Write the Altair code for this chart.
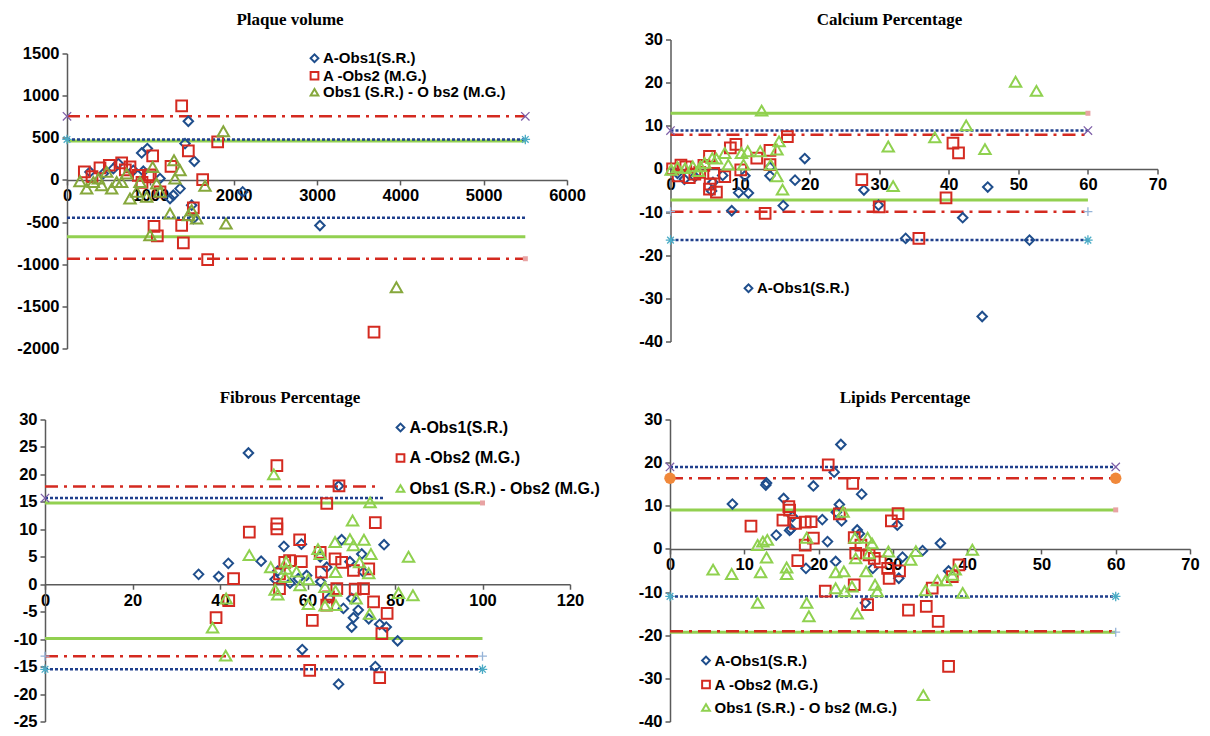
import altair as alt
import pandas as pd

SERIES = ["A-Obs1(S.R.)", "A -Obs2 (M.G.)", "Obs1 (S.R.) - O bs2 (M.G.)"]
SERIES_FIB = ["A-Obs1(S.R.)", "A -Obs2 (M.G.)", "Obs1 (S.R.) - Obs2 (M.G.)"]

# ---------------- Plaque volume ----------------
pv_a1_x = [1456, 964, 896, 1528, 1416, 2108, 1276, 1356, 916, 616, 436, 276, 1236, 1516, 3035, 556, 796, 1116, 1496]
pv_a1_y = [696, 372, 320, 221, 431, -142, -182, -103, 103, 194, 75, 95, -221, -458, -541, 134, 114, 16, -300]
pv_a2_x = [1376, 1456, 1028, 1248, 1808, 1628, 208, 396, 508, 656, 756, 856, 976, 1044, 1084, 1376, 1396, 1688, 1116, 1516, 3684, 700, 900, 1000, 300]
pv_a2_y = [878, 344, 285, 162, 451, 4, 95, 142, 174, 202, 154, 55, 36, -550, -664, -538, -747, -945, -142, -332, -1806, 120, -30, 60, 40]
pv_o_x = [1876, 1284, 1356, 1296, 1656, 1908, 996, 1028, 156, 236, 376, 476, 416, 536, 596, 716, 656, 756, 836, 956, 1076, 1116, 1236, 1496, 1456, 1556, 3953, 876, 316]
pv_o_y = [577, 233, 115, 16, -71, -518, -656, 154, -16, -103, 16, 95, -63, -103, -24, 75, -24, -221, -142, -201, -44, -142, -399, -360, -419, -458, -1273, -24, -24]
pv_red = [755, -935]
pv_red_end = [5500, 5500]
pv_blue = [480, -450]
pv_blue_end = [5500, 5500]
pv_green = [462, -675]
pv_green_end = [5500, 5500]
pv_mark_x = [0, 5500, 0, 5500, 5500]
pv_mark_y = [755, 755, 480, 480, -935]
pv_mark_k = ["x", "x", "ast", "ast", "pink"]

# ---------------- Calcium percentage ----------------
ca_a1_x = [19.3, 17.9, 16.2, 11.2, 8.8, 10.7, 14.3, 14.3, 5.9, 6.1, 2.0, 9.8, 27.8, 29.9, 33.8, 42.0, 45.6, 44.8, 51.6, 3.5, 1.0, 7.5]
ca_a1_y = [2.4, -2.6, -8.5, -5.6, -9.7, -1.6, 0.4, -1.6, -5.1, -3.1, -2.4, -5.5, -4.9, -8.4, -16.1, -11.3, -4.2, -34.2, -16.5, -1.8, -1.0, -1.5]
ca_a2_x = [16.8, 9.4, 8.6, 5.6, 12.4, 14.3, 14.3, 10.1, 7.8, 5.7, 6.6, 5.6, 1.5, 0.3, 4.2, 2.7, 13.6, 1.1, 27.5, 30.0, 39.6, 40.6, 41.4, 35.7, 3.5, 2.2, 4.8, 6.2]
ca_a2_y = [7.5, 5.7, 4.9, 2.9, 2.5, 4.3, 1.0, -0.2, -1.8, -3.5, -5.4, -4.7, 0.9, 0.0, -0.8, -2.0, -10.3, -1.6, -2.5, -8.8, -6.7, 6.0, 3.7, -16.1, -1.2, 0.5, 0.8, -1.0]
ca_o_x = [49.6, 52.6, 13.1, 42.5, 38.0, 31.3, 45.2, 32.0, 16.1, 15.6, 15.3, 14.4, 15.3, 12.9, 11.1, 10.2, 10.5, 7.8, 8.3, 6.0, 4.9, 4.3, 3.2, 2.1, 1.0, 0.1, 4.0, 6.6]
ca_o_y = [20.2, 18.1, 13.5, 10.1, 7.3, 5.2, 4.6, -4.0, -4.8, 6.4, 4.5, 1.0, -1.7, 4.1, 4.1, 3.7, 1.0, 3.7, 1.0, 2.5, 1.4, 0.6, 0.6, 0.2, 0.4, -0.2, -0.5, 2.4]
ca_red = [7.9, -9.9]
ca_red_end = [60, 60]
ca_blue = [8.9, -16.5]
ca_blue_end = [60, 60]
ca_green = [12.9, -7.2]
ca_green_end = [60, 60]
ca_mark_x = [0, 60, 0, 60, 0, 60, 60]
ca_mark_y = [8.9, 8.9, -16.5, -16.5, -9.9, -9.9, 12.9]
ca_mark_k = ["x", "x", "ast", "ast", "plus", "plus", "pink"]

# ---------------- Fibrous percentage ----------------
fi_a1_x = [46.5, 35.1, 39.7, 41.9, 49.4, 54.6, 52.6, 58.8, 67.1, 67.1, 77.5, 72.4, 67.8, 69.7, 70.1, 68.2, 71.6, 70.5, 70.1, 74.0, 76.5, 78.0, 80.6, 75.5, 59.8, 64.4, 57.9, 53.2, 56.0, 63.0, 65.0, 72.8, 58.6, 62.9]
fi_a1_y = [23.9, 1.8, 1.4, 3.8, 4.2, 6.9, 0.9, -11.9, -18.2, 17.9, 7.2, 5.5, 8.1, 4.1, -2.6, -4.4, -4.7, -6.1, -7.8, -6.3, -7.3, -7.8, -10.3, -15.0, 1.6, 3.1, 1.0, 2.4, 0.2, 0.5, -2.5, 2.2, 7.3, 5.0]
fi_a2_x = [53.0, 67.2, 64.4, 46.7, 53.0, 53.0, 75.5, 58.2, 43.1, 42.0, 39.1, 61.1, 60.5, 76.5, 77.0, 78.2, 75.1, 72.8, 70.9, 74.0, 70.5, 66.7, 64.8, 64.4, 63.2, 66.3, 62.9, 58.6, 55.9, 54.8, 53.6, 53.6, 67.8]
fi_a2_y = [21.6, 17.9, 14.7, 9.5, 11.0, 10.1, 11.2, 8.1, 1.0, -3.0, -6.1, -6.6, -15.7, -17.0, -9.0, -5.3, -3.2, -0.8, -0.9, 2.8, 2.5, -0.8, -2.3, -3.8, 2.2, 4.6, 5.8, 4.1, 4.3, 4.0, 1.9, -0.8, 4.0]
fi_o_x = [52.3, 74.3, 70.3, 66.3, 69.7, 70.5, 72.9, 74.5, 83.1, 46.7, 51.6, 62.4, 62.9, 71.9, 55.1, 55.1, 54.9, 57.5, 60.2, 58.3, 74.0, 66.4, 64.0, 66.4, 71.1, 74.2, 64.0, 66.5, 60.2, 52.6, 53.2, 41.4, 38.3, 41.3, 80.8, 84.1]
fi_o_y = [20.0, 14.9, 11.6, 7.7, 8.2, 7.1, 8.1, 5.5, 5.0, 5.3, 3.1, 6.4, 5.5, 4.0, 4.1, 2.8, 1.3, 2.3, 0.9, -0.2, 2.0, 2.2, -0.5, -1.2, -2.6, -5.4, -3.9, -3.8, -3.6, -1.0, -1.9, -2.6, -7.9, -13.0, -1.6, -2.0]
fi_red = [17.8, -13.1]
fi_red_end = [75.8, 100]
fi_blue = [15.7, -15.5]
fi_blue_end = [77.5, 100]
fi_green = [14.8, -9.9]
fi_green_end = [100, 100]
fi_mark_x = [0, 0, 100, 0, 100, 100]
fi_mark_y = [15.7, -15.5, -15.5, -13.1, -13.1, 14.8]
fi_mark_k = ["x", "ast", "ast", "plus", "plus", "pink"]

# ---------------- Lipids percentage ----------------
li_a1_x = [23.0, 22.1, 13.0, 12.9, 8.4, 19.3, 25.8, 15.3, 22.8, 16.3, 14.3, 20.5, 21.2, 23.1, 25.2, 30.6, 36.4, 34.0, 31.3, 18.3, 22.3, 27.3, 30.8, 26.3, 37.5, 16.5, 22.4, 25.5, 16.1]
li_a1_y = [24.2, 17.8, 15.3, 14.8, 10.4, 14.6, 12.7, 11.7, 10.3, 4.6, 3.2, 6.8, 1.7, 6.5, 4.4, 5.5, 1.3, -0.4, -1.9, -4.5, -2.9, -4.5, -6.8, -12.5, -5.1, 7.5, 8.5, 3.5, 4.3]
li_a2_x = [21.3, 24.6, 10.9, 16.0, 15.2, 16.9, 18.2, 19.0, 19.3, 18.2, 17.2, 20.9, 24.8, 22.8, 30.7, 29.8, 24.8, 25.7, 26.8, 27.5, 25.0, 29.3, 29.5, 30.9, 26.6, 32.1, 34.5, 36.1, 35.3, 37.5, 38.9, 38.0, 16.1, 28.3]
li_a2_y = [19.5, 15.2, 5.3, 9.8, 6.7, 5.9, 6.2, 6.3, 2.5, 0.9, -2.7, -9.8, -8.3, 8.1, 8.2, 6.5, 2.6, 0.9, -1.4, -2.2, -1.0, -4.5, -6.8, -5.1, -12.9, -14.2, -13.3, -16.8, -9.1, -27.2, -3.7, -6.4, 9.0, -3.0]
li_o_x = [23.3, 18.4, 11.8, 12.5, 13.1, 13.0, 5.8, 8.3, 12.2, 15.7, 15.7, 11.8, 18.4, 18.7, 24.9, 26.6, 27.2, 26.8, 25.0, 26.4, 29.4, 22.3, 23.4, 22.3, 23.5, 24.5, 27.6, 27.9, 25.2, 33.1, 32.4, 34.4, 36.0, 37.1, 38.0, 38.4, 39.4, 40.7, 34.1]
li_o_y = [8.6, 2.6, 0.9, 1.7, 2.1, -2.0, -4.8, -5.8, -5.4, -4.3, -5.8, -12.5, -12.5, -15.6, 2.6, 2.6, 1.3, -1.0, -2.2, -5.2, -0.6, -5.4, -5.2, -9.1, -9.8, -8.7, -8.3, -9.8, -15.0, -0.5, -2.5, -9.6, -7.3, -7.3, -6.0, -4.8, -10.2, -0.2, -33.9]
li_red = [16.4, -19.1]
li_red_end = [60, 60]
li_blue = [19.0, -11.0]
li_blue_end = [60, 60]
li_green = [9.05, -19.3]
li_green_end = [60, 60]
li_mark_x = [0, 60, 0, 60, 0, 60, 60, 60]
li_mark_y = [19.0, 19.0, -11.0, -11.0, 16.4, 16.4, 9.05, -19.3]
li_mark_k = ["x", "x", "ast", "ast", "circ", "circ", "pink", "plus"]

# ---------------- styling ----------------
LABEL_FONT = "Liberation Sans"
TITLE_FONT = "Liberation Serif"
BLUE_PT = "#1F4E8C"
RED_PT = "#D42A20"
GREEN_PT_OLIVE = "#86A83C"
GREEN_PT = "#8FD14F"
RED_LINE = "#D42A20"
BLUE_LINE = "#1F3F8C"
GREEN_LINE = "#92D050"
SHAPES = ["diamond", "square", "triangle-up"]
SIZES = [90, 115, 130]
AXIS_STYLE = dict(domainColor="#5A5A5A", domainWidth=1.5, tickColor="#5A5A5A", tickWidth=1.5,
                  tickSize=5, labelFont=LABEL_FONT, labelFontWeight="bold", labelFontSize=16.5,
                  labelColor="black", labelPadding=3, labelFlush=False, grid=False, title=None)

MARK_STYLE = {
    "x": dict(shape="M-1,-1L1,1M-1,1L1,-1", color="#7E5FA8", filled=False, size=70, strokeWidth=1.3),
    "ast": dict(shape="M-1,0L1,0M0,-1L0,1M-0.7,-0.7L0.7,0.7M-0.7,0.7L0.7,-0.7", color="#4BACC6", filled=False, size=90, strokeWidth=1.3),
    "plus": dict(shape="M-1,0L1,0M0,-1L0,1", color="#95B3D7", filled=False, size=80, strokeWidth=1.3),
    "circ": dict(shape="circle", color="#F0883A", filled=True, size=130),
    "pink": dict(shape="square", color="#E8A3A3", filled=True, size=25),
}


def panel(title, dx, toff, names, colors, series_xy, xdom, xstep, xrange, ydom, ystep, yrange,
          w, h, yext, yoff, leg, red, red_end, blue, blue_end, green, green_end, mk):
    rows = []
    for name, sz, (xx, yy) in zip(names, SIZES, series_xy):
        for a, b in zip(xx, yy):
            rows.append({"x": a, "y": b, "s": name, "sz": sz})
    df = pd.DataFrame(rows)
    ybot, ytop = yrange
    y0 = ytop + (ybot - ytop) * ydom[1] / (ydom[1] - ydom[0])
    xaxis = alt.Axis(values=list(range(xdom[0], xdom[1] + 1, xstep)), offset=y0 - h,
                     labelExpr="'' + datum.value", **AXIS_STYLE)
    yaxis = alt.Axis(values=list(range(ydom[0], ydom[1] + 1, ystep)), minExtent=yext,
                     maxExtent=yext, offset=yoff, labelExpr="'' + datum.value", **AXIS_STYLE)
    xsc = alt.Scale(domain=xdom, range=xrange, nice=False, zero=False)
    ysc = alt.Scale(domain=ydom, range=yrange, nice=False, zero=False)

    def X():
        return alt.X("x:Q", scale=xsc, axis=xaxis)

    def Y():
        return alt.Y("y:Q", scale=ysc, axis=yaxis)

    layers = []
    for levels, ends, color, dash, sw in [
        (green, green_end, GREEN_LINE, None, 3),
        (blue, blue_end, BLUE_LINE, [3, 2], 2.5),
        (red, red_end, RED_LINE, [13, 6, 3, 6], 2.5),
    ]:
        ldf = pd.DataFrame({"x": [0] * len(levels), "x2": ends, "y": levels})
        kw = dict(color=color, strokeWidth=sw)
        if dash:
            kw["strokeDash"] = dash
        layers.append(alt.Chart(ldf).mark_rule(**kw).encode(x=X(), x2="x2:Q", y=Y()))

    mx, my, mkind = mk
    for kind, st in MARK_STYLE.items():
        sel = [(a, b) for a, b, k in zip(mx, my, mkind) if k == kind]
        if not sel:
            continue
        mdf = pd.DataFrame({"x": [s[0] for s in sel], "y": [s[1] for s in sel]})
        opts = dict(shape=st["shape"], size=st["size"], filled=st["filled"], opacity=1)
        if st["filled"]:
            opts["fill"] = st["color"]
            opts["strokeWidth"] = 0
        else:
            opts["stroke"] = st["color"]
            opts["strokeWidth"] = st["strokeWidth"]
        layers.append(alt.Chart(mdf).mark_point(**opts).encode(x=X(), y=Y()))

    pts = alt.Chart(df).mark_point(filled=False, strokeWidth=2, opacity=1).encode(
        x=X(), y=Y(),
        color=alt.Color("s:N", scale=alt.Scale(domain=names, range=colors), legend=leg),
        shape=alt.Shape("s:N", scale=alt.Scale(domain=names, range=SHAPES), legend=leg),
        size=alt.Size("sz:Q", scale=None, legend=None),
    )
    layers.append(pts)
    return alt.layer(*layers).properties(
        width=w, height=h,
        title=alt.TitleParams(text=title, font=TITLE_FONT, fontSize=17, fontWeight="bold",
                              color="black", anchor="middle", frame="group", dx=dx, offset=toff),
    )


def legend(x, y, rowpad, fs, values=None):
    kw = dict(title=None, orient="none", legendX=x, legendY=y, labelFont=LABEL_FONT,
              labelFontWeight="bold", labelFontSize=fs, labelColor="black", symbolSize=60,
              symbolStrokeWidth=2, rowPadding=rowpad, labelOffset=1, padding=0, labelLimit=400)
    if values:
        kw["values"] = values
    return alt.Legend(**kw)


# Plaque volume shares its plot origin with the calcium panel: its axis runs 14..309
p1 = panel("Plaque volume", -27, 10.75, SERIES, [BLUE_PT, RED_PT, GREEN_PT_OLIVE],
           [(pv_a1_x, pv_a1_y), (pv_a2_x, pv_a2_y), (pv_o_x, pv_o_y)],
           [0, 6000], 1000, [0, 500], [-2000, 1500], 500, [309, 14], 500, 309, 51, 0,
           legend(240, 11.25, 0.5, 15),
           pv_red, pv_red_end, pv_blue, pv_blue_end, pv_green, pv_green_end,
           (pv_mark_x, pv_mark_y, pv_mark_k))

p2 = panel("Calcium Percentage", -24.5, 2.5, SERIES, [BLUE_PT, RED_PT, GREEN_PT],
           [(ca_a1_x, ca_a1_y), (ca_a2_x, ca_a2_y), (ca_o_x, ca_o_y)],
           [0, 70], 10, [0, 487], [-40, 30], 10, [302, 0], 487, 302, 35, 0,
           legend(70.5, 241.25, 4, 15, values=["A-Obs1(S.R.)"]),
           ca_red, ca_red_end, ca_blue, ca_blue_end, ca_green, ca_green_end,
           (ca_mark_x, ca_mark_y, ca_mark_k))

# Fibrous shares its plot origin with the plaque panel; its y axis sits 22px further left
p3 = panel("Fibrous Percentage", -28.5, 4.25, SERIES_FIB, [BLUE_PT, RED_PT, GREEN_PT],
           [(fi_a1_x, fi_a1_y), (fi_a2_x, fi_a2_y), (fi_o_x, fi_o_y)],
           [0, 120], 20, [-22, 503], [-25, 30], 5, [302, 0], 503, 302, 32, 22,
           legend(325.5, 0, 14.5, 16),
           fi_red, fi_red_end, fi_blue, fi_blue_end, fi_green, fi_green_end,
           (fi_mark_x, fi_mark_y, fi_mark_k))

p4 = panel("Lipids Percentage", -25, 4.25, SERIES, [BLUE_PT, RED_PT, GREEN_PT],
           [(li_a1_x, li_a1_y), (li_a2_x, li_a2_y), (li_o_x, li_o_y)],
           [0, 70], 10, [0, 520], [-40, 30], 10, [302, 0], 520, 302, 35, 0,
           legend(28.5, 233.5, 7, 15),
           li_red, li_red_end, li_blue, li_blue_end, li_green, li_green_end,
           (li_mark_x, li_mark_y, li_mark_k))

ind = dict(color="independent", shape="independent")
row1 = alt.hconcat(p1, p2, spacing=49.5).resolve_scale(**ind).resolve_legend(**ind)
row2 = alt.hconcat(p3, p4, spacing=34).resolve_scale(**ind).resolve_legend(**ind)

chart = (
    alt.vconcat(row1, row2, spacing=31)
    .resolve_scale(**ind).resolve_legend(**ind)
    .configure(padding={"left": 5, "top": 2.5, "right": 0, "bottom": 0})
    .configure_view(stroke=None)
    .configure_axis(**{k: v for k, v in AXIS_STYLE.items() if k != "title"})
)

chart.save("out.html", embed_options={"renderer": "svg", "actions": False})
